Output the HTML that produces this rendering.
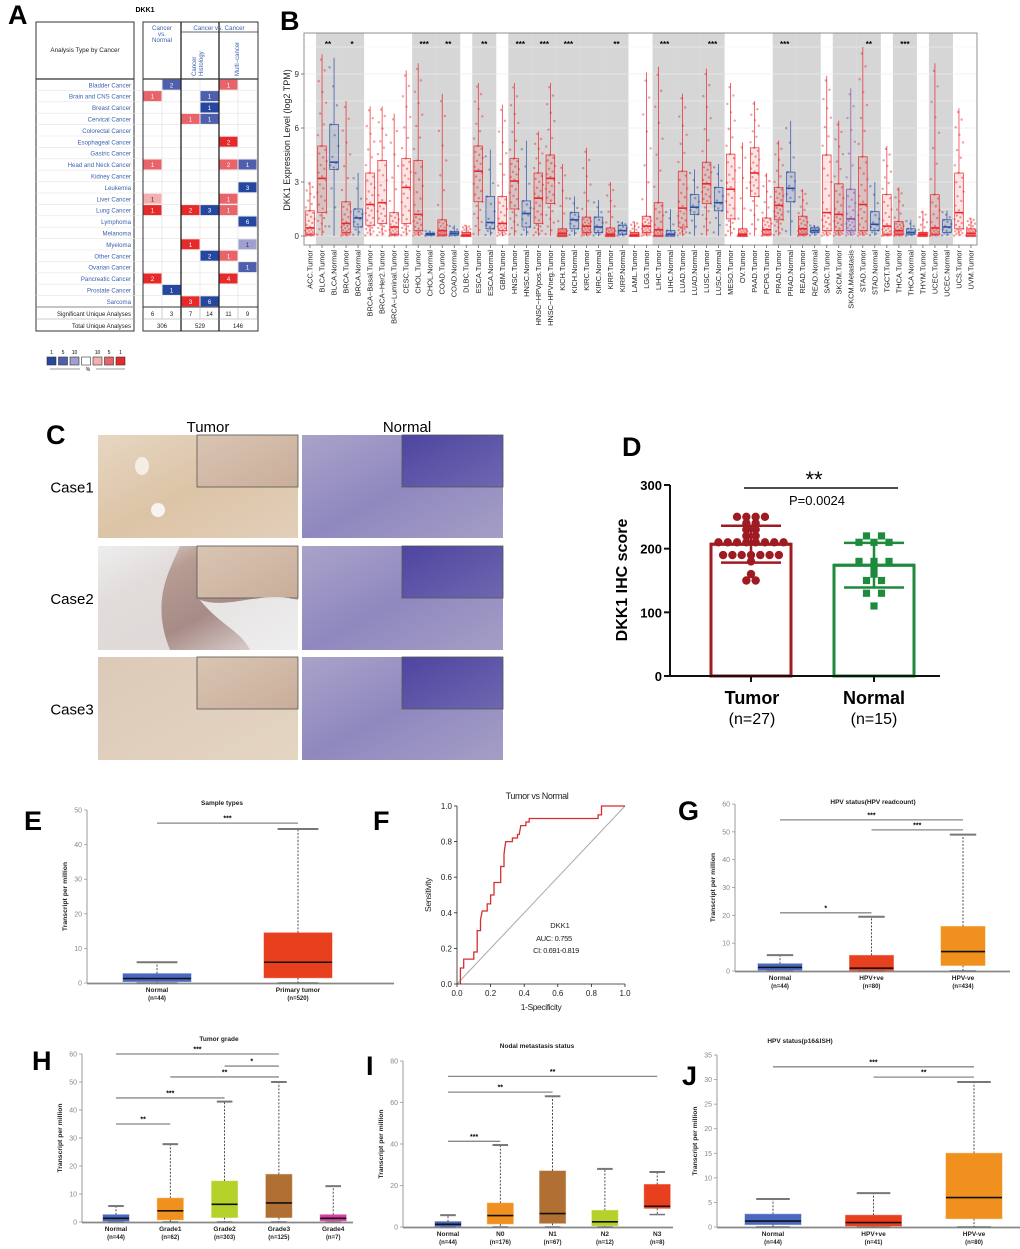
<!DOCTYPE html>
<html><head><meta charset="utf-8"><title>DKK1 figure</title>
<style>
html,body{margin:0;padding:0;background:#fff;}
svg{display:block;font-family:"Liberation Sans",Arial,sans-serif;}
</style></head>
<body>
<svg id="fig" xmlns="http://www.w3.org/2000/svg" width="1020" height="1249" viewBox="0 0 1020 1249">
<defs>
<linearGradient id="gTum1" x1="0" y1="0" x2="1" y2="1"><stop offset="0" stop-color="#e6d6c2"/><stop offset="0.5" stop-color="#dcc4a6"/><stop offset="1" stop-color="#e2cfba"/></linearGradient>
<linearGradient id="gTum2" x1="0" y1="0" x2="1" y2="1"><stop offset="0" stop-color="#f2f0f0"/><stop offset="0.3" stop-color="#b79c93"/><stop offset="0.6" stop-color="#a78b86"/><stop offset="1" stop-color="#ece8e8"/></linearGradient>
<linearGradient id="gTum3" x1="0" y1="0" x2="1" y2="1"><stop offset="0" stop-color="#dccab8"/><stop offset="1" stop-color="#e4d4c2"/></linearGradient>
<linearGradient id="gNor" x1="0" y1="0" x2="1" y2="1"><stop offset="0" stop-color="#a9a3c9"/><stop offset="0.5" stop-color="#8f88bf"/><stop offset="1" stop-color="#a49ec6"/></linearGradient>
<linearGradient id="gNorIn" x1="0" y1="0" x2="1" y2="1"><stop offset="0" stop-color="#4d45a0"/><stop offset="1" stop-color="#6e68b0"/></linearGradient>
<linearGradient id="gTumIn" x1="0" y1="0" x2="1" y2="1"><stop offset="0" stop-color="#d9c5b2"/><stop offset="1" stop-color="#c9ad9b"/></linearGradient>
</defs>
</svg>
<script>
// ---------- data arrays ----------
const aCancers=["Bladder Cancer","Brain and CNS Cancer","Breast Cancer","Cervical Cancer","Colorectal Cancer","Esophageal Cancer","Gastric Cancer","Head and Neck Cancer","Kidney Cancer","Leukemia","Liver Cancer","Lung Cancer","Lymphoma","Melanoma","Myeloma","Other Cancer","Ovarian Cancer","Pancreatic Cancer","Prostate Cancer","Sarcoma"];
const aCellRow=[0,0,1,1,2,3,3,5,7,7,7,9,10,10,11,11,11,11,12,14,14,15,15,16,17,17,18,19,19];
const aCellCol=[1,4,0,3,3,2,3,4,0,4,5,5,0,4,0,2,3,4,5,2,5,3,4,5,0,4,1,2,3];
const aCellVal=[2,1,1,1,1,1,1,2,1,2,1,3,1,1,1,2,3,1,6,1,1,2,1,1,2,4,1,3,6];
const aCellLvl=["b2","r2","r2","b2","b1","r2","b2","r1","r2","r2","b2","b1","r3","r2","r1","r1","b1","r2","b1","r1","b3","b1","r2","b2","r1","r1","b1","r1","b1"];
const aSig=["6","3","7","14","11","9"];
const aTotal=["306","529","146"];
const bCats=["ACC.Tumor","BLCA.Tumor","BLCA.Normal","BRCA.Tumor","BRCA.Normal","BRCA\u2212Basal.Tumor","BRCA\u2212Her2.Tumor","BRCA\u2212Luminal.Tumor","CESC.Tumor","CHOL.Tumor","CHOL.Normal","COAD.Tumor","COAD.Normal","DLBC.Tumor","ESCA.Tumor","ESCA.Normal","GBM.Tumor","HNSC.Tumor","HNSC.Normal","HNSC\u2212HPVpos.Tumor","HNSC\u2212HPVneg.Tumor","KICH.Tumor","KICH.Normal","KIRC.Tumor","KIRC.Normal","KIRP.Tumor","KIRP.Normal","LAML.Tumor","LGG.Tumor","LIHC.Tumor","LIHC.Normal","LUAD.Tumor","LUAD.Normal","LUSC.Tumor","LUSC.Normal","MESO.Tumor","OV.Tumor","PAAD.Tumor","PCPG.Tumor","PRAD.Tumor","PRAD.Normal","READ.Tumor","READ.Normal","SARC.Tumor","SKCM.Tumor","SKCM.Metastasis","STAD.Tumor","STAD.Normal","TGCT.Tumor","THCA.Tumor","THCA.Normal","THYM.Tumor","UCEC.Tumor","UCEC.Normal","UCS.Tumor","UVM.Tumor"];
const bType=["T","T","N","T","N","T","T","T","T","T","N","T","N","T","T","N","T","T","N","T","T","T","N","T","N","T","N","T","T","T","N","T","N","T","N","T","T","T","T","T","N","T","N","T","T","M","T","N","T","T","N","T","T","N","T","T"];
const bMed=[0.45,3.2,4.1,0.7,1.0,1.75,1.85,0.5,2.7,1.2,0.1,0.3,0.15,0.05,3.6,0.75,0.7,3.05,1.25,2.1,3.2,0.15,0.9,0.55,0.5,0.1,0.3,0.05,0.55,0.35,0.1,1.55,1.6,2.9,1.85,2.6,0.1,3.5,0.35,1.7,2.65,0.4,0.3,1.3,1.2,0.95,1.75,0.65,0.55,0.3,0.2,0.1,0.45,0.5,1.3,0.15];
const bQ1=[0.1,1.3,3.7,0.2,0.5,0.6,0.7,0.1,0.7,0.3,0.05,0.05,0.05,0,1.9,0.4,0.3,1.5,0.5,0.7,1.8,0,0.4,0.2,0.2,0,0.1,0,0.2,0,0,0.5,1.2,1.8,1.4,0.95,0,2.2,0.1,0.9,1.9,0.1,0.2,0.3,0.3,0.3,0.3,0.3,0.1,0.1,0.1,0,0.1,0.2,0.4,0];
const bQ3=[1.4,5.0,6.2,1.9,1.5,3.5,4.2,1.3,4.3,4.2,0.15,0.9,0.25,0.2,5.0,2.2,2.2,4.3,1.95,3.5,4.5,0.4,1.3,1.05,1.05,0.45,0.6,0.2,1.1,1.85,0.3,3.6,2.3,4.1,2.7,4.55,0.4,4.9,1.0,2.7,3.55,1.1,0.45,4.5,2.9,2.6,4.4,1.35,2.3,0.8,0.4,0.2,2.3,0.9,3.5,0.4];
const bMax=[3.0,10.1,9.9,7.5,3.5,7.2,7.2,6.8,9.2,9.6,0.3,7.9,0.6,0.6,8.5,4.8,7.3,8.5,5.3,5.8,8.5,4.0,2.2,4.9,2.0,3.0,0.8,0.8,9.1,9.4,1.5,7.9,3.7,9.3,4.0,8.5,5.2,7.5,3.5,5.3,6.4,2.6,0.6,8.9,6.4,8.2,10.5,3.0,5.0,2.7,0.9,1.4,9.6,1.4,7.1,1.0];
const bGrayStart=[1,3,9,11,14,17,19,21,23,25,29,31,33,39,41,44,46,49,52];
const bStarIdx=[1,3,9,11,14,17,19,21,25,29,33,39,46,49];
const bStarTxt=["**","*","***","**","**","***","***","***","**","***","***","***","**","***"];
const bYTicks=[0,3,6,9];
const dTumorVals=[250,250,250,250,240,240,230,230,220,220,210,210,210,210,210,210,210,210,190,190,190,190,190,190,190,180,160,150,150];
const dNormalVals=[220,220,210,210,210,180,180,180,170,160,150,150,130,130,110];
const dMean=[207,174];
const dSD=[29,35];
const dTicks=[0,100,200,300];
const eLabels=["Normal","Primary tumor"],eN=["(n=44)","(n=520)"];
const eMin=[0,0],eQ1=[0.4,1.5],eMed=[1.3,6],eQ3=[2.7,14.5],eMax=[6,44.5];
const eSigA=[0],eSigB=[1],eSigV=[46.2],eSigT=["***"];
const fFpr=[0.02,0.02,0.04,0.04,0.10,0.10,0.12,0.12,0.14,0.14,0.15,0.18,0.18,0.20,0.20,0.22,0.22,0.26,0.26,0.28,0.28,0.29,0.33,0.33,0.36,0.36,0.37,0.38,0.41,0.41,0.43,0.43,0.84,0.84,0.86,0.86,1.0];
const fTpr=[0,0.09,0.09,0.14,0.14,0.18,0.18,0.30,0.30,0.36,0.41,0.41,0.45,0.45,0.50,0.50,0.57,0.57,0.66,0.66,0.73,0.80,0.80,0.82,0.82,0.84,0.84,0.89,0.89,0.91,0.91,0.93,0.93,0.95,0.95,1.0,1.0];
const fTicks=[0,0.2,0.4,0.6,0.8,1.0];
const gLabels=["Normal","HPV+ve","HPV-ve"],gN=["(n=44)","(n=80)","(n=434)"];
const gMin=[0,0,0],gQ1=[0.3,0.2,2],gMed=[1.3,1,7],gQ3=[2.6,5.6,16],gMax=[5.7,19.5,49];
const gSigA=[0,1,0],gSigB=[2,2,1],gSigV=[54.3,50.7,20.9],gSigT=["***","***","*"];
const hLabels=["Normal","Grade1","Grade2","Grade3","Grade4"],hN=["(n=44)","(n=62)","(n=303)","(n=125)","(n=7)"];
const hMin=[0,0,0,0,0],hQ1=[0.3,0.8,1.6,1.6,0.4],hMed=[1.3,4,6.3,6.8,1.3],hQ3=[2.6,8.5,14.6,17,2.6],hMax=[5.7,27.8,43,50,12.8];
const hSigA=[0,2,1,0,0],hSigB=[3,3,3,2,1],hSigV=[60,55.7,51.8,44.3,35],hSigT=["***","*","**","***","**"];
const iLabels=["Normal","N0","N1","N2","N3"],iN=["(n=44)","(n=176)","(n=67)","(n=12)","(n=8)"];
const iMin=[0,0,0,0,6],iQ1=[0.3,1.5,1.8,0.6,9],iMed=[1.3,5.5,6.5,2.5,10],iQ3=[2.6,11.5,27,8,20.5],iMax=[5.7,39.5,63,28,26.5];
const iSigA=[0,0,0],iSigB=[4,2,1],iSigV=[72.6,65,41.3],iSigT=["**","**","***"];
const jLabels=["Normal","HPV+ve","HPV-ve"],jN=["(n=44)","(n=41)","(n=80)"];
const jMin=[0,0,0],jQ1=[0.5,0.2,1.7],jMed=[1.2,0.9,6],jQ3=[2.6,2.4,15],jMax=[5.7,6.9,29.5];
const jSigA=[0,1],jSigB=[2,2],jSigV=[32.6,30.5],jSigT=["***","**"];

const NS='http://www.w3.org/2000/svg';
const svg=document.getElementById('fig');
function mk(tag,attrs,parent){const e=document.createElementNS(NS,tag);for(const k in attrs)e.setAttribute(k,attrs[k]);(parent||svg).appendChild(e);return e;}
function tx(str,x,y,attrs,parent){const e=mk('text',Object.assign({x:x,y:y},attrs||{}),parent);e.textContent=str;return e;}
function grp(name){const g=mk('g',{});return g;}

[["A",8,24],["B",280,30],["C",46,444],["D",622,456],["E",24,830],["F",373,830],["G",678,820],["H",32,1070],["I",366,1075],["J",682,1085]].forEach(function(p){
  const t=tx(p[0],p[1],p[2],{'font-size':27,'font-weight':'bold',fill:'#000'});
  
  
});

(function(){
  const g=grp('panel-a-oncomine-table');
  const t0=tx('DKK1',145,12,{'font-size':7,'font-weight':'bold','text-anchor':'middle'},g);
  
  
  mk('rect',{x:36,y:22,width:98,height:309,fill:'none',stroke:'#333','stroke-width':1},g);
  mk('line',{x1:36,y1:79,x2:134,y2:79,stroke:'#333','stroke-width':1.2},g);
  mk('line',{x1:36,y1:307,x2:134,y2:307,stroke:'#333','stroke-width':1},g);
  mk('line',{x1:36,y1:319,x2:134,y2:319,stroke:'#999','stroke-width':0.6},g);
  tx('Analysis Type by Cancer',85,52,{'font-size':6.3,'text-anchor':'middle',fill:'#222'},g);
  const rowTop=79,rowH=11.4,colX=[143,162,181,200,219,238],cw=19;
  const col={b1:'#2547a0',b2:'#4f5fae',b3:'#a09fd2',r3:'#f2b0b0',r2:'#e8646a',r1:'#e62a2a'};
  aCancers.forEach(function(c,i){
    const y=rowTop+i*rowH;
    mk('line',{x1:36,y1:y+rowH,x2:258,y2:y+rowH,stroke:'#e4e4e4','stroke-width':0.6},g);
    const t=tx(c,131,y+8.3,{'font-size':6.1,'text-anchor':'end',fill:'#3b62b0'},g);
    
    
  });
  colX.forEach(function(x){mk('line',{x1:x+cw,y1:79,x2:x+cw,y2:319,stroke:'#ddd','stroke-width':0.6},g);});
  aCellRow.forEach(function(r,k){
    const x=colX[aCellCol[k]],y=rowTop+r*rowH;
    const cell=mk('rect',{x:x+0.5,y:y+0.7,width:cw-1,height:rowH-1.4,fill:col[aCellLvl[k]]},g);
    
    
    tx(String(aCellVal[k]),x+cw/2,y+8.3,{'font-size':6,'text-anchor':'middle',fill:(aCellLvl[k]==='b3'||aCellLvl[k]==='r3')?'#333':'#fff'},g);
  });
  mk('rect',{x:143,y:22,width:115,height:309,fill:'none',stroke:'#333','stroke-width':1},g);
  [181,219].forEach(function(x){mk('line',{x1:x,y1:22,x2:x,y2:331,stroke:'#222','stroke-width':1.3},g);});
  mk('line',{x1:143,y1:79,x2:258,y2:79,stroke:'#333','stroke-width':1.2},g);
  mk('line',{x1:181,y1:32,x2:258,y2:32,stroke:'#333','stroke-width':0.8},g);
  mk('line',{x1:143,y1:307,x2:258,y2:307,stroke:'#333','stroke-width':1},g);
  mk('line',{x1:143,y1:319,x2:258,y2:319,stroke:'#999','stroke-width':0.6},g);
  [162,200,238].forEach(function(x){mk('line',{x1:x,y1:307,x2:x,y2:319,stroke:'#bbb','stroke-width':0.6},g);});
  tx('Cancer',162,30,{'font-size':6.2,'text-anchor':'middle',fill:'#3b62b0'},g);
  tx('vs.',162,36,{'font-size':6.2,'text-anchor':'middle',fill:'#3b62b0'},g);
  tx('Normal',162,42,{'font-size':6.2,'text-anchor':'middle',fill:'#3b62b0'},g);
  tx('Cancer vs. Cancer',219,30,{'font-size':6.2,'text-anchor':'middle',fill:'#3b62b0'},g);
  tx('Cancer',196,76,{'font-size':6,fill:'#3b62b0',transform:'rotate(-90 196 76)'},g);
  tx('Histology',203,76,{'font-size':6,fill:'#3b62b0',transform:'rotate(-90 203 76)'},g);
  tx('Multi\u2212cancer',239,76,{'font-size':6,fill:'#3b62b0',transform:'rotate(-90 239 76)'},g);
  tx('Significant Unique Analyses',131,316,{'font-size':6,'text-anchor':'end',fill:'#222'},g);
  tx('Total Unique Analyses',131,328,{'font-size':6,'text-anchor':'end',fill:'#222'},g);
  aSig.forEach(function(s,i){tx(s,colX[i]+cw/2,316,{'font-size':6,'text-anchor':'middle',fill:'#222'},g);});
  aTotal.forEach(function(s,i){tx(s,162+i*38,328,{'font-size':6,'text-anchor':'middle',fill:'#222'},g);});
  const lg=grp('heat-legend');
  const lc=['#2547a0','#4f5fae','#a09fd2','#fff','#f2b0b0','#e8646a','#e62a2a'];
  const ll=['1','5','10','','10','5','1'];
  lc.forEach(function(c,i){mk('rect',{x:47+i*11.5,y:357,width:9,height:8,fill:c,stroke:'#333','stroke-width':0.6},lg);tx(ll[i],51.5+i*11.5,354,{'font-size':5,'text-anchor':'middle'},lg);});
  mk('line',{x1:50,y1:369,x2:80,y2:369,stroke:'#333','stroke-width':0.6},lg);
  mk('line',{x1:96,y1:369,x2:125,y2:369,stroke:'#333','stroke-width':0.6},lg);
  tx('%',88,371,{'font-size':5,'text-anchor':'middle'},lg);
})();

(function(){
  const g=grp('panel-b-timer-boxplot');
  const x0=304,x1=977,yTop=33,yBot=245,n=bCats.length,step=(x1-x0)/n;
  const yB=function(v){return 236-v*18;};
  const xB=function(i){return x0+(i+0.5)*step;};
  mk('rect',{x:x0,y:yTop,width:x1-x0,height:yBot-yTop,fill:'#fff'},g);
  bGrayStart.forEach(function(s){
    const r=mk('rect',{x:x0+s*step,y:yTop,width:2*step,height:yBot-yTop,fill:'#d6d6d6'},g);
    
    
  });
  [1.5,4.5,7.5,10.5].forEach(function(v){mk('line',{x1:x0,y1:yB(v),x2:x1,y2:yB(v),stroke:'#f3f3f3','stroke-width':0.5},g);});
  bYTicks.forEach(function(v){
    mk('line',{x1:x0,y1:yB(v),x2:x1,y2:yB(v),stroke:'#ebebeb','stroke-width':0.8},g);
    mk('line',{x1:x0-3,y1:yB(v),x2:x0,y2:yB(v),stroke:'#333','stroke-width':0.6},g);
    const t=tx(String(v),x0-5,yB(v)+3,{'font-size':8,'text-anchor':'end',fill:'#333'},g);
    
    
  });
  const colors={T:'#e8262b',N:'#2d4ea5',M:'#8c4ea3'};
  bCats.forEach(function(c,i){
    const cx=xB(i),col=colors[bType[i]],hw=step*0.36;
    const npt=bType[i]==='N'?14:34;
    const qs=[0,bQ1[i],bMed[i],bQ3[i],bMax[i]];
    for(let k=0;k<npt;k++){
      const u=(k+0.5)/npt*4,s=Math.floor(u),f=u-s;
      const v=qs[s]+(qs[Math.min(s+1,4)]-qs[s])*f;
      const jx=((k*0.618034)%1-0.5)*step*0.8;
      mk('circle',{cx:cx+jx,cy:yB(v),r:1.2,fill:col,'fill-opacity':0.45},g);
    }
    const box=mk('rect',{x:cx-hw,y:yB(bQ3[i]),width:2*hw,height:Math.max(0.8,yB(bQ1[i])-yB(bQ3[i])),fill:col,'fill-opacity':0.12,stroke:col,'stroke-width':0.7},g);
    
    
    mk('line',{x1:cx,y1:yB(bQ3[i]),x2:cx,y2:yB(bMax[i]),stroke:col,'stroke-width':0.7},g);
    mk('line',{x1:cx,y1:yB(bQ1[i]),x2:cx,y2:yB(0),stroke:col,'stroke-width':0.7},g);
    mk('line',{x1:cx-hw,y1:yB(bMed[i]),x2:cx+hw,y2:yB(bMed[i]),stroke:col,'stroke-width':1.6},g);
    mk('line',{x1:cx,y1:yBot,x2:cx,y2:yBot+3,stroke:'#333','stroke-width':0.6},g);
    const t=tx(c,cx+2.5,yBot+5,{'font-size':7.4,'text-anchor':'end',fill:'#222',transform:'rotate(-90 '+(cx+2.5)+' '+(yBot+5)+')'},g);
    
    
  });
  bStarIdx.forEach(function(idx,k){
    const t=tx(bStarTxt[k],x0+(idx+1)*step,47,{'font-size':8,'font-weight':'bold','text-anchor':'middle'},g);
    
    
  });
  mk('rect',{x:x0,y:yTop,width:x1-x0,height:yBot-yTop,fill:'none',stroke:'#777','stroke-width':0.8},g);
  const yl=tx('DKK1 Expression Level (log2 TPM)',290,140,{'font-size':9,'text-anchor':'middle',fill:'#222',transform:'rotate(-90 290 140)'},g);
  
  
})();

(function(){
  const g=grp('panel-c-ihc-images');
  tx('Tumor',208,432,{'font-size':15,'text-anchor':'middle'},g);
  tx('Normal',407,432,{'font-size':15,'text-anchor':'middle'},g);
  const rows=[[435,103],[546,104],[657,103]];
  const tFill=['url(#gTum1)','url(#gTum2)','url(#gTum3)'];
  rows.forEach(function(r,i){
    const lab=tx('Case'+(i+1),72,r[0]+r[1]/2+6,{'font-size':15,'text-anchor':'middle'},g);
    
    
    const a=mk('rect',{x:98,y:r[0],width:200,height:r[1],fill:tFill[i]},g);
    
    
    mk('rect',{x:197,y:r[0],width:101,height:52,fill:'url(#gTumIn)',stroke:'#555','stroke-width':0.8},g);
    const b=mk('rect',{x:302,y:r[0],width:201,height:r[1],fill:'url(#gNor)'},g);
    
    
    mk('rect',{x:402,y:r[0],width:101,height:52,fill:'url(#gNorIn)',stroke:'#555','stroke-width':0.8},g);
  });
  mk('ellipse',{cx:142,cy:466,rx:7,ry:9,fill:'#f4eee6'},g);
  mk('ellipse',{cx:158,cy:510,rx:7,ry:7,fill:'#f7f3ee'},g);
  mk('path',{d:'M98 546 L180 546 C170 570 150 600 170 650 L98 650 Z',fill:'#ececec','fill-opacity':0.8},g);
  mk('path',{d:'M200 600 C230 610 260 590 298 600 L298 650 L250 650 C240 630 220 625 200 600 Z',fill:'#eeeeee','fill-opacity':0.9},g);
})();

(function(){
  const g=grp('panel-d-ihc-score');
  const ax=670,y0=676,yT=485,vmax=300;
  const yD=function(v){return y0-v*(y0-yT)/vmax;};
  const cx=[751,874],hw=40,cols=['#9e1b22','#1e8a3c'];
  [0,1].forEach(function(k){
    const bar=mk('rect',{x:cx[k]-hw,y:yD(dMean[k]),width:2*hw,height:y0-yD(dMean[k]),fill:'#fff',stroke:cols[k],'stroke-width':3},g);
    
    
  });
  function dots(vals,k,sq){
    const counts={},seen={};
    vals.forEach(function(v){counts[v]=(counts[v]||0)+1;});
    vals.forEach(function(v){
      const j=seen[v]||0;seen[v]=j+1;
      const x=cx[k]+(j-(counts[v]-1)/2)*(sq?15:9.3);
      let e;
      if(sq){e=mk('rect',{x:x-3.6,y:yD(v)-3.6,width:7.2,height:7.2,fill:cols[k]},g);}
      else{e=mk('circle',{cx:x,cy:yD(v),r:4.2,fill:cols[k]},g);}
      
      
    });
  }
  dots(dTumorVals,0,false);
  dots(dNormalVals,1,true);
  [0,1].forEach(function(k){
    const lo=yD(dMean[k]-dSD[k]),hi=yD(dMean[k]+dSD[k]);
    mk('line',{x1:cx[k],y1:lo,x2:cx[k],y2:hi,stroke:cols[k],'stroke-width':2.5},g);
    mk('line',{x1:cx[k]-30,y1:lo,x2:cx[k]+30,y2:lo,stroke:cols[k],'stroke-width':2.5},g);
    mk('line',{x1:cx[k]-30,y1:hi,x2:cx[k]+30,y2:hi,stroke:cols[k],'stroke-width':2.5},g);
    mk('line',{x1:cx[k]-hw,y1:yD(dMean[k]),x2:cx[k]+hw,y2:yD(dMean[k]),stroke:cols[k],'stroke-width':3},g);
  });
  mk('line',{x1:ax,y1:yT,x2:ax,y2:y0,stroke:'#111','stroke-width':2},g);
  mk('line',{x1:ax,y1:y0,x2:940,y2:y0,stroke:'#111','stroke-width':2},g);
  dTicks.forEach(function(v){
    mk('line',{x1:ax-6,y1:yD(v),x2:ax,y2:yD(v),stroke:'#111','stroke-width':2},g);
    const t=tx(String(v),ax-8,yD(v)+5,{'font-size':13,'font-weight':'bold','text-anchor':'end'},g);
    
    
  });
  cx.forEach(function(x){mk('line',{x1:x,y1:y0,x2:x,y2:y0+6,stroke:'#111','stroke-width':2},g);});
  tx('Tumor',752,704,{'font-size':18,'font-weight':'bold','text-anchor':'middle'},g);
  tx('(n=27)',752,724,{'font-size':16,'text-anchor':'middle'},g);
  tx('Normal',874,704,{'font-size':18,'font-weight':'bold','text-anchor':'middle'},g);
  tx('(n=15)',874,724,{'font-size':16,'text-anchor':'middle'},g);
  mk('line',{x1:744,y1:488,x2:898,y2:488,stroke:'#111','stroke-width':1.5},g);
  tx('**',814,487,{'font-size':22,'text-anchor':'middle'},g);
  tx('P=0.0024',817,505,{'font-size':13,'text-anchor':'middle'},g);
  const yl=tx('DKK1 IHC score',627,580,{'font-size':16,'font-weight':'bold','text-anchor':'middle',transform:'rotate(-90 627 580)'},g);
  
  
})();

function boxPanel(p,name){
  const g=grp(name);
  const yv=function(v){return p.y0-v*(p.y0-p.yTop)/p.vmax;};
  const xc=function(i){return p.c0+i*p.sp;};
  tx(p.title,p.titleX,p.titleY,{'font-size':6.5,'font-weight':'bold','text-anchor':'middle',fill:'#222'},g);
  mk('line',{x1:p.ax,y1:p.yTop,x2:p.ax,y2:p.y0,stroke:'#999','stroke-width':1},g);
  mk('line',{x1:p.ax,y1:p.y0+0.5,x2:p.axEnd,y2:p.y0+0.5,stroke:'#888','stroke-width':1.8},g);
  p.ticks.forEach(function(v){
    mk('line',{x1:p.ax-3,y1:yv(v),x2:p.ax,y2:yv(v),stroke:'#999','stroke-width':0.8},g);
    const t=tx(String(v),p.ax-5,yv(v)+2.5,{'font-size':7,'text-anchor':'end',fill:'#888'},g);
    
    
  });
  const yl=tx('Transcript per million',p.ax-20,(p.y0+p.yTop)/2,{'font-size':6.8,'font-weight':'bold','text-anchor':'middle',fill:'#222',transform:'rotate(-90 '+(p.ax-20)+' '+((p.y0+p.yTop)/2)+')'},g);
  
  
  p.labels.forEach(function(l,i){
    const x=xc(i),hw=p.hw;
    mk('line',{x1:x,y1:yv(p.q3[i]),x2:x,y2:yv(p.max[i]),stroke:'#222','stroke-width':0.8,'stroke-dasharray':'2,1.5'},g);
    mk('line',{x1:x,y1:yv(p.q1[i]),x2:x,y2:yv(p.min[i]),stroke:'#222','stroke-width':0.8,'stroke-dasharray':'2,1.5'},g);
    mk('line',{x1:x-hw*0.6,y1:yv(p.max[i]),x2:x+hw*0.6,y2:yv(p.max[i]),stroke:'#777','stroke-width':2},g);
    mk('line',{x1:x-hw*0.6,y1:yv(p.min[i]),x2:x+hw*0.6,y2:yv(p.min[i]),stroke:'#777','stroke-width':1.5},g);
    const b=mk('rect',{x:x-hw,y:yv(p.q3[i]),width:2*hw,height:yv(p.q1[i])-yv(p.q3[i]),fill:p.colors[i],stroke:p.colors[i],'stroke-opacity':0.5,'stroke-width':1},g);
    
    
    mk('line',{x1:x-hw,y1:yv(p.med[i]),x2:x+hw,y2:yv(p.med[i]),stroke:'#111','stroke-width':1.6},g);
    const t=tx(l,x,p.y0+9,{'font-size':6.5,'font-weight':'bold','text-anchor':'middle',fill:'#222'},g);
    
    
    tx(p.ns[i],x,p.y0+17,{'font-size':6,'font-weight':'bold','text-anchor':'middle',fill:'#222'},g);
  });
  p.sigA.forEach(function(a,k){
    const y=yv(p.sigV[k]);
    mk('line',{x1:xc(a),y1:y,x2:xc(p.sigB[k]),y2:y,stroke:'#888','stroke-width':1.3},g);
    const t=tx(p.sigT[k],(xc(a)+xc(p.sigB[k]))/2,y-2.5,{'font-size':7,'font-weight':'bold','text-anchor':'middle'},g);
    
    
  });
}
const BLUE='#4a68bf',RED='#e8401e',ORG='#f0901e',LIME='#b4d22a',BRN='#b07034',MAG='#d43fa0';
boxPanel({labels:eLabels,ns:eN,min:eMin,q1:eQ1,med:eMed,q3:eQ3,max:eMax,sigA:eSigA,sigB:eSigB,sigV:eSigV,sigT:eSigT,colors:[BLUE,RED],
  ax:87,axEnd:394,y0:983,yTop:810,vmax:50,ticks:[0,10,20,30,40,50],c0:157,sp:141,hw:34,title:'Sample types',titleX:222,titleY:805},'panel-e-sample-types');
boxPanel({labels:gLabels,ns:gN,min:gMin,q1:gQ1,med:gMed,q3:gQ3,max:gMax,sigA:gSigA,sigB:gSigB,sigV:gSigV,sigT:gSigT,colors:[BLUE,RED,ORG],
  ax:735,axEnd:1010,y0:971,yTop:804,vmax:60,ticks:[0,10,20,30,40,50,60],c0:780,sp:91.5,hw:22,title:'HPV status(HPV readcount)',titleX:873,titleY:804},'panel-g-hpv-readcount');
boxPanel({labels:hLabels,ns:hN,min:hMin,q1:hQ1,med:hMed,q3:hQ3,max:hMax,sigA:hSigA,sigB:hSigB,sigV:hSigV,sigT:hSigT,colors:[BLUE,ORG,LIME,BRN,MAG],
  ax:82,axEnd:353,y0:1222,yTop:1054,vmax:60,ticks:[0,10,20,30,40,50,60],c0:116,sp:54.3,hw:13,title:'Tumor grade',titleX:219,titleY:1041},'panel-h-tumor-grade');
boxPanel({labels:iLabels,ns:iN,min:iMin,q1:iQ1,med:iMed,q3:iQ3,max:iMax,sigA:iSigA,sigB:iSigB,sigV:iSigV,sigT:iSigT,colors:[BLUE,ORG,BRN,LIME,RED],
  ax:403,axEnd:673,y0:1227,yTop:1061,vmax:80,ticks:[0,20,40,60,80],c0:448,sp:52.3,hw:13,title:'Nodal metastasis status',titleX:537,titleY:1048},'panel-i-nodal-status');
boxPanel({labels:jLabels,ns:jN,min:jMin,q1:jQ1,med:jMed,q3:jQ3,max:jMax,sigA:jSigA,sigB:jSigB,sigV:jSigV,sigT:jSigT,colors:[BLUE,RED,ORG],
  ax:717,axEnd:1020,y0:1227,yTop:1055,vmax:35,ticks:[0,5,10,15,20,25,30,35],c0:773,sp:100.5,hw:28,title:'HPV status(p16&ISH)',titleX:800,titleY:1043},'panel-j-hpv-p16');

(function(){
  const g=grp('panel-f-roc');
  const x0=457,x1=625,y0=984,y1=806;
  const xs=function(v){return x0+v*(x1-x0);},ys=function(v){return y0-v*(y0-y1);};
  tx('Tumor vs Normal',537,799,{'font-size':9,'text-anchor':'middle',fill:'#222','letter-spacing':'-0.4'},g);
  mk('line',{x1:xs(0),y1:ys(0),x2:xs(1),y2:ys(1),stroke:'#aaa','stroke-width':1},g);
  let d='';
  fFpr.forEach(function(f,i){d+=(i?'L':'M')+xs(f).toFixed(1)+' '+ys(fTpr[i]).toFixed(1);});
  const roc=mk('path',{d:d,fill:'none',stroke:'#d32f2f','stroke-width':1.3},g);
  
  
  mk('line',{x1:x0,y1:y1,x2:x0,y2:y0,stroke:'#222','stroke-width':0.8},g);
  mk('line',{x1:x0,y1:y0,x2:x1,y2:y0,stroke:'#222','stroke-width':0.8},g);
  fTicks.forEach(function(v){
    mk('line',{x1:xs(v),y1:y0,x2:xs(v),y2:y0+3,stroke:'#222','stroke-width':0.8},g);
    mk('line',{x1:x0-3,y1:ys(v),x2:x0,y2:ys(v),stroke:'#222','stroke-width':0.8},g);
    const a=tx(v.toFixed(1),xs(v),y0+12,{'font-size':8,'text-anchor':'middle',fill:'#222'},g);
    
    
    const b=tx(v.toFixed(1),x0-5,ys(v)+3,{'font-size':8,'text-anchor':'end',fill:'#222'},g);
    
    
  });
  tx('1-Specificity',541,1010,{'font-size':8.5,'text-anchor':'middle',fill:'#222','letter-spacing':'-0.4'},g);
  tx('Sensitivity',431,895,{'font-size':8.5,'text-anchor':'middle',fill:'#222','letter-spacing':'-0.4',transform:'rotate(-90 431 895)'},g);
  tx('DKK1',560,928,{'font-size':7.5,'text-anchor':'middle',fill:'#222'},g);
  tx('AUC: 0.755',554,941,{'font-size':7.5,'text-anchor':'middle',fill:'#222','letter-spacing':'-0.3'},g);
  tx('CI: 0.691-0.819',556,953,{'font-size':7.5,'text-anchor':'middle',fill:'#222','letter-spacing':'-0.4'},g);
})();
</script>
</body></html>
